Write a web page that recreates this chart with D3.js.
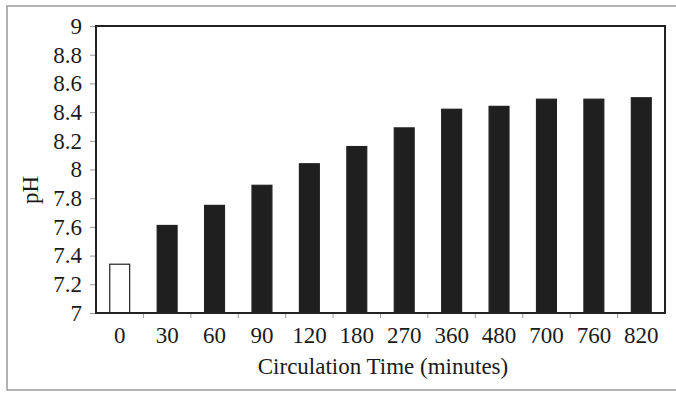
<!DOCTYPE html>
<html><head><meta charset="utf-8">
<script src="https://cdn.jsdelivr.net/npm/d3@7/dist/d3.min.js"></script>
<style>body{margin:0;background:#fff}svg{display:block}</style>
</head><body><svg id="c" width="676" height="393"></svg>
<script>
const categories = ["0","30","60","90","120","180","270","360","480","700","760","820"];
const phValues = [7.34,7.61,7.75,7.89,8.04,8.16,8.29,8.42,8.44,8.49,8.49,8.50];
const yTicks = [7,7.2,7.4,7.6,7.8,8,8.2,8.4,8.6,8.8,9];
const barFills = ["#fff","#1f1f1f","#1f1f1f","#1f1f1f","#1f1f1f","#1f1f1f","#1f1f1f","#1f1f1f","#1f1f1f","#1f1f1f","#1f1f1f","#1f1f1f"];

const svg = d3.select("#c");
const font = "'Liberation Serif','Times New Roman',serif";
const fs = 23;
const L=96, R=665, T=26, B=313;

svg.append("rect").attr("x",7).attr("y",6).attr("width",690).attr("height",384)
  .attr("fill","#fff").attr("stroke","#999").attr("stroke-width",1.5);

const x = d3.scaleBand().domain(categories).range([L,R]).paddingInner(0.58).paddingOuter(0.29);
const y = d3.scaleLinear().domain([7,9]).range([B,T]);

svg.selectAll("rect.bar").data(categories).join("rect").attr("class","bar")
  .attr("x",d=>x(d)).attr("width",x.bandwidth())
  .attr("y",(d,i)=>y(phValues[i])).attr("height",(d,i)=>B-y(phValues[i]))
  .attr("fill",(d,i)=>barFills[i]).attr("stroke","#222").attr("stroke-width",1.2);

// y axis
const ya = svg.append("g").attr("transform",`translate(${L},0)`)
  .call(d3.axisLeft(y).tickValues(yTicks).tickFormat(d3.format("~g")).tickSize(6).tickPadding(8));
ya.select(".domain").remove();
ya.selectAll("line").attr("stroke","#999");
ya.selectAll("text").attr("font-family",font).attr("font-size",fs).attr("fill","#1a1a1a");

// x axis
const xa = svg.append("g").attr("transform",`translate(0,${B})`)
  .call(d3.axisBottom(x).tickSize(0).tickPadding(14));
xa.select(".domain").remove();
xa.selectAll("text").attr("font-family",font).attr("font-size",fs).attr("fill","#1a1a1a");
const step = x.step();
svg.append("g").selectAll("line").data(categories.slice(1)).join("line")
  .attr("x1",d=>x(d)-x.paddingInner()*step/2).attr("x2",d=>x(d)-x.paddingInner()*step/2)
  .attr("y1",B).attr("y2",B+5).attr("stroke","#999");

// plot frame
svg.append("rect").attr("x",L).attr("y",T).attr("width",R-L).attr("height",B-T)
  .attr("fill","none").attr("stroke","#222").attr("stroke-width",2);

svg.append("text").attr("x",383).attr("y",374).attr("text-anchor","middle")
  .attr("font-family",font).attr("font-size",fs).attr("fill","#1a1a1a").text("Circulation Time (minutes)");
svg.append("text").attr("transform","translate(38,190) rotate(-90)").attr("text-anchor","middle")
  .attr("font-family",font).attr("font-size",fs).attr("fill","#1a1a1a").text("pH");
</script></body></html>
